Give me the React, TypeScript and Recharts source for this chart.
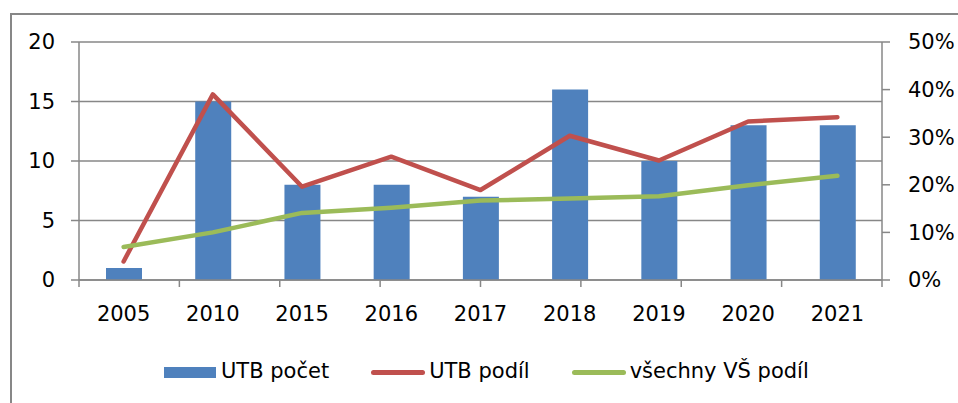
import React from 'react';
import { ComposedChart, Bar, Line, XAxis, YAxis, CartesianGrid, Legend } from 'recharts';

const years = ['2005', '2010', '2015', '2016', '2017', '2018', '2019', '2020', '2021'];
const utbCount = [1, 15, 8, 8, 7, 16, 10, 13, 13];
const utbShare = [0.039, 0.39, 0.196, 0.259, 0.189, 0.303, 0.251, 0.333, 0.342];
const allShare = [0.0695, 0.1, 0.141, 0.152, 0.167, 0.171, 0.176, 0.199, 0.219];
const leftTicks = [0, 5, 10, 15, 20];
const rightTicks = [0, 0.1, 0.2, 0.3, 0.4, 0.5];
const edgeTicks = [0, 1, 2, 3, 4, 5, 6, 7, 8, 9];

const names = { count: 'UTB počet', share: 'UTB podíl', all: 'všechny VŠ podíl' };
const colors = { count: '#4F81BD', share: '#C0504D', all: '#9BBB59' };
const legendItems = [
  { value: names.count, type: 'rect', color: colors.count },
  { value: names.share, type: 'line', color: colors.share },
  { value: names.all, type: 'line', color: colors.all },
];

const data = years.map((y, i) => ({
  year: y,
  count: utbCount[i],
  share: utbShare[i],
  all: allShare[i],
}));

const FONT = 'DejaVu Sans';
const GRID = '#878787';

const LegendContent = () => {
  return (
    <div style={{ display: 'flex', alignItems: 'center', paddingLeft: 164, fontFamily: FONT, fontSize: 21, lineHeight: '24px', color: '#000' }}>
      {legendItems.map((it, i) => (
        <div key={i} style={{ display: 'flex', alignItems: 'center', marginRight: 42 }}>
          {it.type === 'rect' ? (
            <div style={{ width: 52, height: 11, background: it.color, marginRight: 5, marginTop: 3 }} />
          ) : (
            <div style={{ width: 54, height: 5, borderRadius: 3, background: it.color, marginRight: 4, marginTop: 3 }} />
          )}
          <span>{it.value}</span>
        </div>
      ))}
    </div>
  );
};

export default function App() {
  return (
    <div style={{ position: 'absolute', left: 0, top: 0, width: 958, height: 403, overflow: 'hidden', background: '#fff' }}>
      <div style={{ position: 'absolute', left: 10, top: 13, width: 980, height: 420, border: `2px solid ${GRID}`, boxSizing: 'border-box' }} />
      <div style={{ position: 'absolute', left: 0, top: 0 }}>
        <ComposedChart width={958} height={403} data={data} margin={{ top: 42, right: 0, bottom: 22, left: 0 }}>
          <CartesianGrid yAxisId="left" vertical={false} stroke={GRID} strokeWidth={1.5} />
          <XAxis
            xAxisId="cat"
            dataKey="year"
            axisLine={false}
            tickLine={false}
            tickSize={0}
            tickMargin={25}
            height={60}
            tick={{ fill: '#000', fontFamily: FONT, fontSize: 21 }}
          />
          <XAxis
            xAxisId="a"
            type="number"
            domain={[0, 9]}
            ticks={edgeTicks}
            interval={0}
            allowDataOverflow
            tick={{ fontSize: 0, fill: 'none' }}
            tickFormatter={() => ''}
            tickSize={7}
            tickLine={{ stroke: GRID, strokeWidth: 1.5 }}
            axisLine={{ stroke: GRID, strokeWidth: 1.5 }}
            height={1}
          />
          <YAxis
            yAxisId="left"
            orientation="left"
            width={79}
            domain={[0, 20]}
            ticks={leftTicks}
            interval={0}
            tickSize={8}
            tickMargin={16}
            tickLine={{ stroke: GRID, strokeWidth: 1.5 }}
            axisLine={{ stroke: GRID, strokeWidth: 1.5 }}
            tick={{ fill: '#000', fontFamily: FONT, fontSize: 21 }}
          />
          <YAxis
            yAxisId="right"
            orientation="right"
            width={76}
            domain={[0, 0.5]}
            ticks={rightTicks}
            interval={0}
            tickSize={8}
            tickMargin={18}
            tickFormatter={(v: number) => `${Math.round(v * 100)}%`}
            tickLine={{ stroke: GRID, strokeWidth: 1.5 }}
            axisLine={{ stroke: GRID, strokeWidth: 1.5 }}
            tick={{ fill: '#000', fontFamily: FONT, fontSize: 21, textAnchor: 'start' }}
          />
          <Legend
            verticalAlign="bottom"
            height={40}
            wrapperStyle={{ left: 0, top: 359, width: 958 }}
            content={<LegendContent />}
          />
          <Bar xAxisId="cat" yAxisId="left" dataKey="count" name={names.count} fill={colors.count} barSize={36} isAnimationActive={false} />
          <Line xAxisId="cat" yAxisId="right" dataKey="share" name={names.share} stroke={colors.share} strokeWidth={4.5} strokeLinecap="round" strokeLinejoin="round" dot={false} activeDot={false} type="linear" isAnimationActive={false} />
          <Line xAxisId="cat" yAxisId="right" dataKey="all" name={names.all} stroke={colors.all} strokeWidth={4.5} strokeLinecap="round" strokeLinejoin="round" dot={false} activeDot={false} type="linear" isAnimationActive={false} />
        </ComposedChart>
      </div>
    </div>
  );
}
